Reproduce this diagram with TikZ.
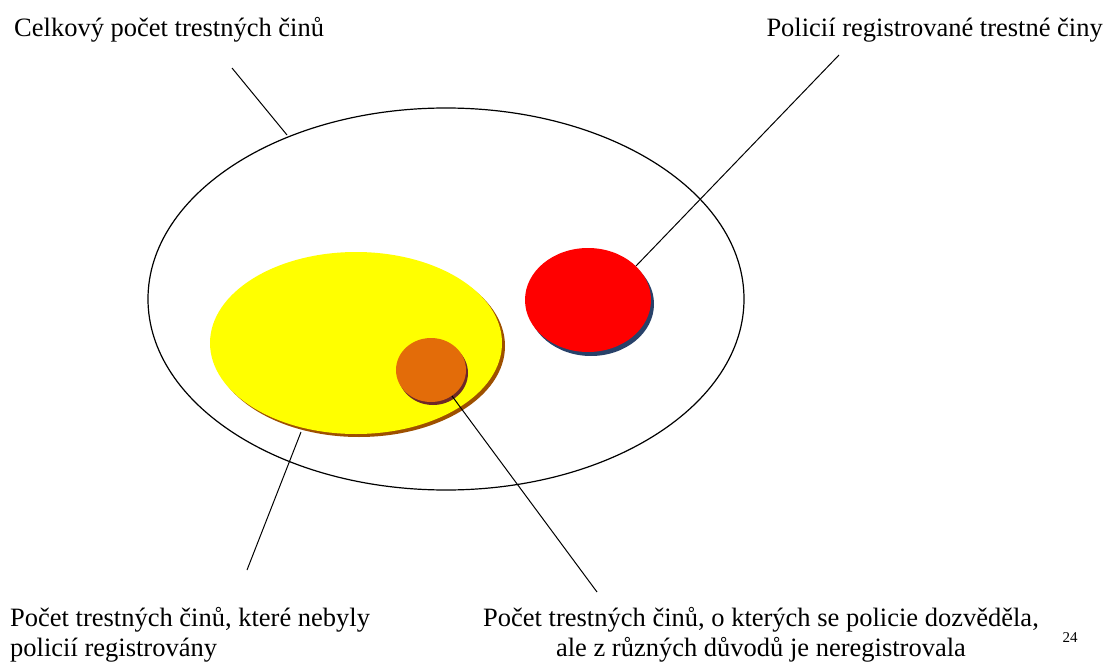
\documentclass[tikz,border=0pt]{standalone}
\usepackage{fontspec}
\setmainfont{Liberation Serif}
\definecolor{sunyellow}{RGB}{255,255,0}
\definecolor{yellowshade}{RGB}{158,80,0}
\definecolor{darkorange}{RGB}{227,108,9}
\definecolor{orangeshade}{RGB}{110,40,40}
\definecolor{redshade}{RGB}{40,65,105}
\tikzset{
  label text/.style={font=\fontsize{26.5}{29.5}\selectfont, inner sep=0pt},
  pointer/.style={draw, line width=1pt},
}
\begin{document}
\begin{tikzpicture}[x=1pt, y=-1pt]
  \useasboundingbox (0,0) rectangle (1105,663);
  % outer set
  \draw[line width=1.2pt] (446,299) ellipse (298 and 191);
  % not registered
  \fill[yellowshade] (359,346) ellipse (146 and 91);
  \fill[sunyellow] (356,343) ellipse (146 and 91);
  \fill[orangeshade] (433,373) ellipse (35 and 32);
  \fill[darkorange] (431,370) ellipse (35 and 32);
  % registered
  \fill[redshade] (591,304) ellipse (63 and 52);
  \fill[red] (588,300) ellipse (63 and 52);
  % texts
  \node[label text, anchor=base west] (total) at (14,37) {Celkový počet trestných činů};
  \node[label text, anchor=base east] (reg) at (1103,37) {Policií registrované trestné činy};
  \node[label text, anchor=base west, align=left] (notreg) at (10,656)
    {Počet trestných činů, které nebyly\\policií registrovány};
  \node[label text, anchor=base, align=center] (known) at (761,656)
    {Počet trestných činů, o kterých se policie dozvěděla,\\ale z různých důvodů je neregistrovala};
  \node[font=\fontsize{15}{17}\selectfont, inner sep=0pt, anchor=base] (page) at (1070,642) {24};
  % pointers
  \coordinate (p1a) at (232,68);  \coordinate (p1b) at (287,135);
  \coordinate (p2a) at (839,55);  \coordinate (p2b) at (636,266);
  \coordinate (p3a) at (247,570); \coordinate (p3b) at (301,432);
  \coordinate (p4a) at (597,592); \coordinate (p4b) at (452,396);
  \draw[pointer] (p1a)--(p1b);
  \draw[pointer] (p2a)--(p2b);
  \draw[pointer] (p3a)--(p3b);
  \draw[pointer] (p4a)--(p4b);
\end{tikzpicture}
\end{document}
